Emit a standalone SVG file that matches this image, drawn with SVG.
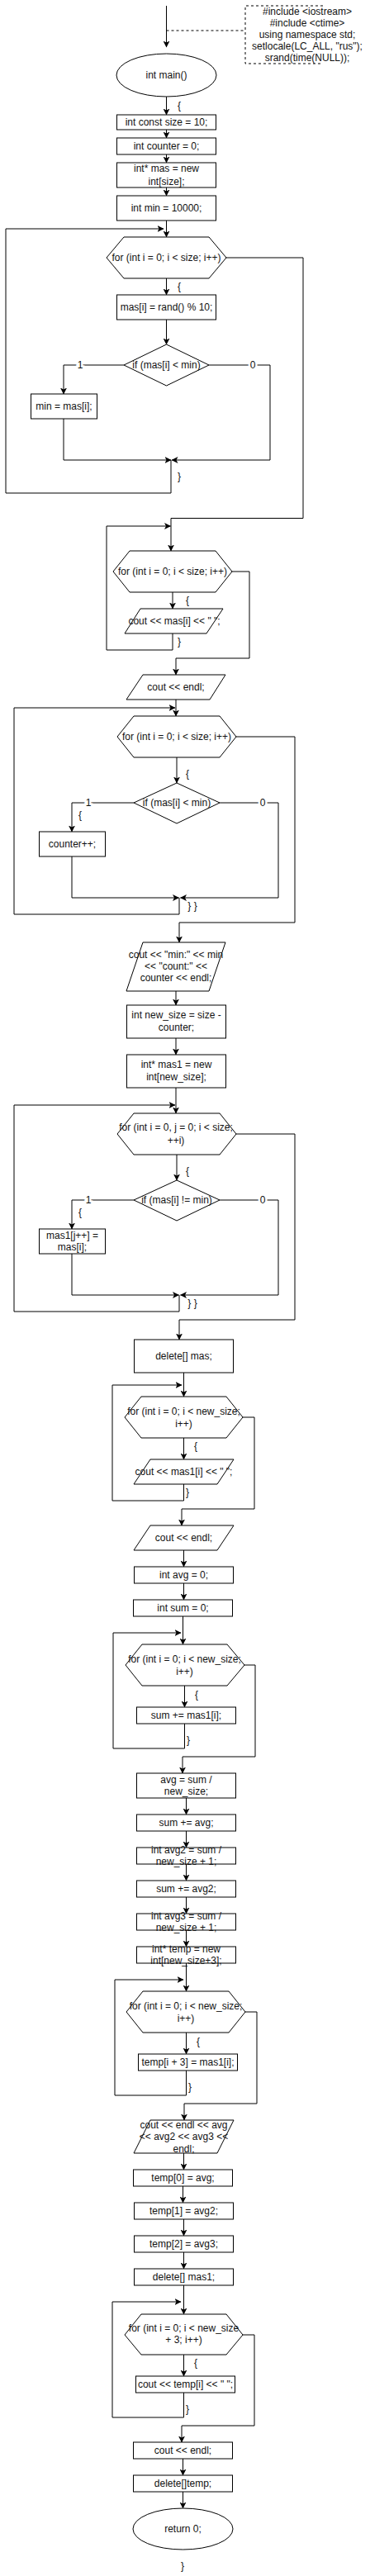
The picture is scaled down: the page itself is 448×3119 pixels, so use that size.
<svg xmlns="http://www.w3.org/2000/svg" width="448" height="3119" viewBox="0 0 448 3119">
<style>
.s{fill:#fff;stroke:#000;stroke-width:1}
.e{fill:none;stroke:#000;stroke-width:1}
.a{marker-end:url(#arr)}
.d{fill:none;stroke:#000;stroke-width:1;stroke-dasharray:3 3}
text{font-family:"Liberation Sans",Arial,Helvetica,sans-serif;font-size:12px;fill:#111;text-anchor:middle}
.l{paint-order:stroke;stroke:#fff;stroke-width:5px}
</style>
<defs>
<marker id="arr" markerUnits="userSpaceOnUse" viewBox="0 0 8 8" refX="7.5" refY="4" markerWidth="8" markerHeight="8" orient="auto">
<path d="M0,0 L8,4 L0,8 L2,4 Z" fill="#000"/>
</marker>
</defs>
<rect width="448" height="3119" fill="#fff"/>
<g id="connectors">
<path class="e a" d="M201.5,7 V57"/>
<path class="d" d="M201.5,37 H297"/>
<path class="e a" d="M201.5,117 V139"/>
<path class="e a" d="M201.5,157 V167"/>
<path class="e a" d="M201.5,187 V197"/>
<path class="e a" d="M201.5,227 V237"/>
<path class="e a" d="M201.5,267 V287"/>
<path class="e a" d="M201.5,337 V357"/>
<path class="e a" d="M201.5,387 V417"/>
<path class="e a" d="M150,442 H77 V477"/>
<path class="e a" d="M77,507 V557 H207"/>
<path class="e a" d="M253,442 H327 V557 H208"/>
<path class="e a" d="M207,557 V597 H7 V277 H198"/>
<path class="e a" d="M274,312 H367 V627.5 H207 V667"/>
<path class="e a" d="M209,717 V737"/>
<path class="e a" d="M209,767 V787 H129 V637 H206.5"/>
<path class="e a" d="M281,692 H302 V797 H213 V817"/>
<path class="e a" d="M213,847 V867"/>
<path class="e a" d="M214,917 V948"/>
<path class="e a" d="M162,972 H87 V1007"/>
<path class="e a" d="M87,1037 V1087 H216.5"/>
<path class="e a" d="M266,972 H337 V1087 H218.5"/>
<path class="e a" d="M217,1087 V1107 H17 V857 H212"/>
<path class="e a" d="M286,892 H357 V1117 H217 V1141"/>
<path class="e a" d="M213,1200 V1217"/>
<path class="e a" d="M213,1257 V1277"/>
<path class="e a" d="M213,1317 V1348"/>
<path class="e a" d="M214,1398 V1429"/>
<path class="e a" d="M162,1453 H87 V1488"/>
<path class="e a" d="M87,1518 V1568 H216.5"/>
<path class="e a" d="M266,1453 H337 V1568 H218.5"/>
<path class="e a" d="M217,1568 V1588 H17 V1338 H212"/>
<path class="e a" d="M286,1373 H357 V1598 H217 V1622"/>
<path class="e a" d="M222.5,1662 V1691"/>
<path class="e a" d="M222.5,1741 V1767"/>
<path class="e a" d="M222.5,1797 V1817 H136 V1677 H220"/>
<path class="e a" d="M294,1716 H308 V1827 H220 V1847"/>
<path class="e a" d="M222.5,1877 V1897"/>
<path class="e a" d="M222.5,1917 V1937"/>
<path class="e a" d="M221.5,1957 V1991"/>
<path class="e a" d="M223.5,2041 V2067"/>
<path class="e a" d="M223.5,2087 V2117 H137 V1977 H219"/>
<path class="e a" d="M296,2016 H309 V2127 H221 V2147"/>
<path class="e a" d="M225.5,2177 V2197"/>
<path class="e a" d="M225.5,2217 V2237"/>
<path class="e a" d="M225.5,2257 V2277"/>
<path class="e a" d="M225.5,2297 V2317"/>
<path class="e a" d="M225.5,2337 V2357"/>
<path class="e a" d="M225.5,2377 V2411"/>
<path class="e a" d="M225.5,2461 V2487"/>
<path class="e a" d="M225.5,2507 V2537 H139 V2397 H222"/>
<path class="e a" d="M297,2436 H311 V2547 H223 V2567"/>
<path class="e a" d="M222.5,2607 V2627"/>
<path class="e a" d="M221.5,2647 V2667"/>
<path class="e a" d="M222.5,2687 V2707"/>
<path class="e a" d="M222.5,2727 V2747"/>
<path class="e a" d="M222.5,2767 V2802"/>
<path class="e a" d="M222.5,2851 V2877"/>
<path class="e a" d="M222.5,2897 V2927 H136 V2787 H219"/>
<path class="e a" d="M294,2827 H308 V2937 H220 V2957"/>
<path class="e a" d="M221.5,2977 V2997"/>
<path class="e a" d="M221.5,3017 V3037"/>
<text x="217" y="132">{</text>
<text x="217" y="351">{</text>
<text class="l" x="97" y="446">1</text>
<text class="l" x="306" y="446">0</text>
<text x="217" y="581">}</text>
<text x="227" y="731">{</text>
<text x="217" y="781">}</text>
<text x="227" y="941">{</text>
<text class="l" x="107" y="976">1</text>
<text class="l" x="318" y="976">0</text>
<text x="97" y="991">{</text>
<text x="233" y="1101">} }</text>
<text x="227" y="1422">{</text>
<text class="l" x="107" y="1457">1</text>
<text class="l" x="318" y="1457">0</text>
<text x="97" y="1472">{</text>
<text x="233" y="1582">} }</text>
<text x="237" y="1755">{</text>
<text x="227" y="1811">}</text>
<text x="238" y="2056">{</text>
<text x="228" y="2111">}</text>
<text x="240" y="2476">{</text>
<text x="230" y="2531">}</text>
<text x="237" y="2865">{</text>
<text x="227" y="2921">}</text>
</g>
<g id="note">
<path class="d" d="M391,7 H297 V77 H391"/>
<text x="372" y="18">#include &lt;iostream&gt;</text>
<text x="372" y="32">#include &lt;ctime&gt;</text>
<text x="372" y="46">using namespace std;</text>
<text x="372" y="60">setlocale(LC_ALL, "rus");</text>
<text x="372" y="74">srand(time(NULL));</text>
</g>
<g id="main"><ellipse class="s" cx="201.5" cy="91" rx="60.5" ry="26"/><text x="201.5" y="95">int main()</text></g>
<g id="n1"><rect class="s" x="141.5" y="139" width="120" height="18"/><text x="201.5" y="152">int const size = 10;</text></g>
<g id="n2"><rect class="s" x="141.5" y="167" width="120" height="20"/><text x="201.5" y="181">int counter = 0;</text></g>
<g id="n3"><rect class="s" x="141.5" y="197" width="120" height="30"/><text x="201.5" y="208">int* mas = new</text><text x="201.5" y="224">int[size];</text></g>
<g id="n4"><rect class="s" x="141.5" y="237" width="120" height="30"/><text x="201.5" y="256">int min = 10000;</text></g>
<g id="for1"><polygon class="s" points="129,312 150,287 253,287 274,312 253,337 150,337"/><text x="201.5" y="316">for (int i = 0; i &lt; size; i++)</text></g>
<g id="n5"><rect class="s" x="141.5" y="357" width="120" height="30"/><text x="201.5" y="376">mas[i] = rand() % 10;</text></g>
<g id="if1"><polygon class="s" points="150,442 201.5,417 253,442 201.5,467"/><text x="201.5" y="446">if (mas[i] &lt; min)</text></g>
<g id="n6"><rect class="s" x="37.5" y="477" width="80" height="30"/><text x="77.5" y="496">min = mas[i];</text></g>
<g id="for2"><polygon class="s" points="137,692 157,667 261,667 281,692 261,717 157,717"/><text x="209" y="696">for (int i = 0; i &lt; size; i++)</text></g>
<g id="out1"><polygon class="s" points="170,737 270,737 250,767 151,767"/><text x="211" y="756">cout &lt;&lt; mas[i] &lt;&lt; " ";</text></g>
<g id="out2"><polygon class="s" points="173,817 273,817 254,847 153,847"/><text x="213" y="836">cout &lt;&lt; endl;</text></g>
<g id="for3"><polygon class="s" points="142,892 162,867 266,867 286,892 266,917 162,917"/><text x="214" y="896">for (int i = 0; i &lt; size; i++)</text></g>
<g id="if2"><polygon class="s" points="162,972 214,948 266,972 214,997"/><text x="214" y="976">if (mas[i] &lt; min)</text></g>
<g id="n7"><rect class="s" x="47.5" y="1007" width="80" height="30"/><text x="87.5" y="1026">counter++;</text></g>
<g id="out3"><polygon class="s" points="173,1141 273,1141 253,1200 153,1200"/><text x="213" y="1160">cout &lt;&lt; "min:" &lt;&lt; min</text><text x="213" y="1174">&lt;&lt; "count:" &lt;&lt;</text><text x="213" y="1188">counter &lt;&lt; endl;</text></g>
<g id="n8"><rect class="s" x="153.5" y="1217" width="120" height="40"/><text x="213.5" y="1233">int new_size = size -</text><text x="213.5" y="1248">counter;</text></g>
<g id="n9"><rect class="s" x="153.5" y="1277" width="120" height="40"/><text x="213.5" y="1293">int* mas1 = new</text><text x="213.5" y="1308">int[new_size];</text></g>
<g id="for4"><polygon class="s" points="142,1373 162,1348 266,1348 286,1373 266,1398 162,1398"/><text x="213" y="1369">for (int i = 0, j = 0; i &lt; size;</text><text x="213" y="1385">++i)</text></g>
<g id="if3"><polygon class="s" points="162,1453 214,1429 266,1453 214,1478"/><text x="214" y="1457">if (mas[i] != min)</text></g>
<g id="n10"><rect class="s" x="47.5" y="1488" width="80" height="30"/><text x="87.5" y="1500">mas1[j++] =</text><text x="87.5" y="1514">mas[i];</text></g>
<g id="n11"><rect class="s" x="162.5" y="1622" width="120" height="40"/><text x="222.5" y="1646">delete[] mas;</text></g>
<g id="for5"><polygon class="s" points="151,1716 171,1691 274,1691 294,1716 274,1741 171,1741"/><text x="222.5" y="1713">for (int i = 0; i &lt; new_size;</text><text x="222.5" y="1728">i++)</text></g>
<g id="out4"><polygon class="s" points="182,1767 283,1767 263,1797 162,1797"/><text x="222.5" y="1786">cout &lt;&lt; mas1[i] &lt;&lt; " ";</text></g>
<g id="out5"><polygon class="s" points="182,1847 283,1847 263,1877 162,1877"/><text x="222.5" y="1866">cout &lt;&lt; endl;</text></g>
<g id="n12"><rect class="s" x="162.5" y="1897" width="120" height="20"/><text x="222.5" y="1911">int avg = 0;</text></g>
<g id="n13"><rect class="s" x="161.5" y="1937" width="120" height="20"/><text x="221.5" y="1951">int sum = 0;</text></g>
<g id="for6"><polygon class="s" points="152,2016 172,1991 275,1991 296,2016 275,2041 172,2041"/><text x="223.5" y="2013">for (int i = 0; i &lt; new_size;</text><text x="223.5" y="2028">i++)</text></g>
<g id="n14"><rect class="s" x="165.5" y="2067" width="120" height="20"/><text x="225.5" y="2081">sum += mas1[i];</text></g>
<g id="n15"><rect class="s" x="165.5" y="2147" width="120" height="30"/><text x="225.5" y="2159">avg = sum /</text><text x="225.5" y="2173">new_size;</text></g>
<g id="n16"><rect class="s" x="165.5" y="2197" width="120" height="20"/><text x="225.5" y="2211">sum += avg;</text></g>
<g id="n17"><rect class="s" x="165.5" y="2237" width="120" height="20"/><text x="225.5" y="2244">int avg2 = sum /</text><text x="225.5" y="2258">new_size + 1;</text></g>
<g id="n18"><rect class="s" x="165.5" y="2277" width="120" height="20"/><text x="225.5" y="2291">sum += avg2;</text></g>
<g id="n19"><rect class="s" x="165.5" y="2317" width="120" height="20"/><text x="225.5" y="2324">int avg3 = sum /</text><text x="225.5" y="2338">new_size + 1;</text></g>
<g id="n20"><rect class="s" x="165.5" y="2357" width="120" height="20"/><text x="225.5" y="2364">int* temp = new</text><text x="225.5" y="2378">int[new_size+3];</text></g>
<g id="for7"><polygon class="s" points="153,2436 173,2411 277,2411 297,2436 277,2461 173,2461"/><text x="225" y="2433">for (int i = 0; i &lt; new_size;</text><text x="225" y="2448">i++)</text></g>
<g id="n21"><rect class="s" x="167.5" y="2487" width="120" height="20"/><text x="227.5" y="2501">temp[i + 3] = mas1[i];</text></g>
<g id="out6"><polygon class="s" points="182,2567 283,2567 263,2607 162,2607"/><text x="222.5" y="2577">cout &lt;&lt; endl &lt;&lt; avg</text><text x="222.5" y="2591">&lt;&lt; avg2 &lt;&lt; avg3 &lt;&lt;</text><text x="222.5" y="2606">endl;</text></g>
<g id="n22"><rect class="s" x="161.5" y="2627" width="120" height="20"/><text x="221.5" y="2641">temp[0] = avg;</text></g>
<g id="n23"><rect class="s" x="162.5" y="2667" width="120" height="20"/><text x="222.5" y="2681">temp[1] = avg2;</text></g>
<g id="n24"><rect class="s" x="162.5" y="2707" width="120" height="20"/><text x="222.5" y="2721">temp[2] = avg3;</text></g>
<g id="n25"><rect class="s" x="162.5" y="2747" width="120" height="20"/><text x="222.5" y="2761">delete[] mas1;</text></g>
<g id="for8"><polygon class="s" points="151,2827 171,2802 274,2802 294,2827 274,2851 171,2851"/><text x="222.5" y="2823">for (int i = 0; i &lt; new_size</text><text x="222.5" y="2837">+ 3; i++)</text></g>
<g id="n26"><rect class="s" x="164.5" y="2877" width="120" height="20"/><text x="224.5" y="2891">cout &lt;&lt; temp[i] &lt;&lt; " ";</text></g>
<g id="n27"><rect class="s" x="161.5" y="2957" width="120" height="20"/><text x="221.5" y="2971">cout &lt;&lt; endl;</text></g>
<g id="n28"><rect class="s" x="161.5" y="2997" width="120" height="20"/><text x="221.5" y="3011">delete[]temp;</text></g>
<g id="end"><ellipse class="s" cx="221.5" cy="3062" rx="60.5" ry="25"/><text x="221.5" y="3066">return 0;</text></g>
<g id="close"><text x="221" y="3111">}</text></g>
</svg>
